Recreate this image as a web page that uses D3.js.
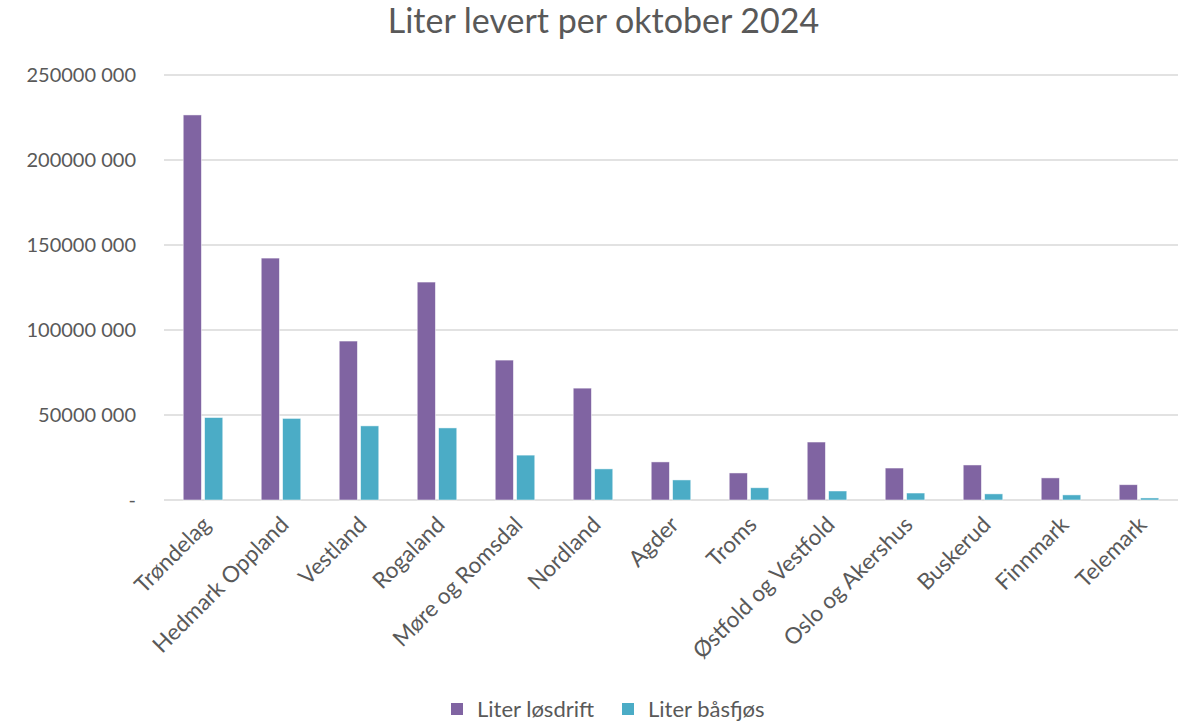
<!DOCTYPE html>
<html>
<head>
<meta charset="utf-8">
<script src="https://cdn.jsdelivr.net/npm/d3@7"></script>
<style>
  body { margin: 0; background: #fff; }
  text { font-family: Lato, "Open Sans", sans-serif; fill: #595959; }
</style>
</head>
<body>
<div id="chart"></div>
<script>
// Data
var regions = ["Trøndelag", "Hedmark Oppland", "Vestland", "Rogaland", "Møre og Romsdal",
    "Nordland", "Agder", "Troms", "Østfold og Vestfold", "Oslo og Akershus",
    "Buskerud", "Finnmark", "Telemark"];
var losdrift = [226500000, 142300000, 93500000, 128200000, 82300000, 65800000,
    22400000, 15900000, 34100000, 18800000, 20600000, 13000000, 9000000];
var basfjos = [48500000, 48000000, 43600000, 42400000, 26400000, 18300000,
    11800000, 7200000, 5300000, 4100000, 3600000, 3000000, 1200000];
var seriesNames = ["Liter løsdrift", "Liter båsfjøs"];
var yTicks = [0, 50000000, 100000000, 150000000, 200000000, 250000000];
var yTickLabels = ["-", "50000 000", "100000 000", "150000 000", "200000 000", "250000 000"];

var width = 1191, height = 721;
var margin = { top: 75, right: 13, bottom: 221, left: 164 };
var colors = ["#8064A2", "#4BACC6"];

var svg = d3.select("#chart").append("svg")
    .attr("width", width)
    .attr("height", height);

// Title
svg.append("text")
    .attr("x", width / 2 + 8)
    .attr("y", 33)
    .attr("text-anchor", "middle")
    .style("font-size", "34px")
    .text("Liter levert per oktober 2024");

var x = d3.scaleBand()
    .domain(regions)
    .range([margin.left, width - margin.right])
    .paddingInner(0)
    .paddingOuter(0);

var x1 = d3.scaleBand()
    .domain([0, 1])
    .range([0, x.bandwidth()])
    .paddingInner(0.15)
    .paddingOuter(0.9);

var y = d3.scaleLinear()
    .domain([0, 250000000])
    .range([height - margin.bottom, margin.top]);

// Gridlines
svg.append("g")
    .selectAll("line")
    .data(yTicks)
    .enter()
    .append("line")
    .attr("x1", margin.left)
    .attr("x2", width - margin.right)
    .attr("y1", function (d) { return y(d); })
    .attr("y2", function (d) { return y(d); })
    .attr("stroke", "#d9d9d9")
    .attr("stroke-width", 1.3);

// Y tick labels
svg.append("g")
    .selectAll("text")
    .data(yTicks)
    .enter()
    .append("text")
    .attr("x", 136)
    .attr("y", function (d) { return y(d); })
    .attr("dy", "0.35em")
    .attr("text-anchor", "end")
    .style("font-size", "20px")
    .text(function (d, i) { return yTickLabels[i]; });

// Bars
var groups = svg.append("g")
    .selectAll("g")
    .data(regions)
    .enter()
    .append("g")
    .attr("transform", function (d) { return "translate(" + x(d) + ",0)"; });

groups.selectAll("rect")
    .data(function (d, i) { return [losdrift[i], basfjos[i]]; })
    .enter()
    .append("rect")
    .attr("x", function (d, j) { return x1(j); })
    .attr("width", x1.bandwidth())
    .attr("y", function (d) { return y(d); })
    .attr("height", function (d) { return y(0) - y(d); })
    .attr("fill", function (d, j) { return colors[j]; })
    .attr("stroke", "#ffffff")
    .attr("stroke-opacity", 0.6)
    .attr("stroke-width", 0.8);

// X labels, rotated
svg.append("g")
    .selectAll("text")
    .data(regions)
    .enter()
    .append("text")
    .attr("transform", function (d) {
        return "translate(" + (x(d) + x.bandwidth() / 2 - 2) + "," + 515 + ") rotate(-45)";
    })
    .attr("text-anchor", "end")
    .attr("dy", "0.7em")
    .style("font-size", "22.5px")
    .text(function (d) { return d; });

// Legend
var legend = svg.append("g")
    .selectAll("g")
    .data(seriesNames)
    .enter()
    .append("g")
    .attr("transform", function (d, i) { return "translate(" + (451 + i * 171) + ",703)"; });

legend.append("rect")
    .attr("width", 12)
    .attr("height", 12)
    .attr("fill", function (d, i) { return colors[i]; });

legend.append("text")
    .attr("x", 26)
    .attr("y", 6)
    .attr("dy", "0.35em")
    .style("font-size", "22px")
    .text(function (d) { return d; });
</script>
</body>
</html>
